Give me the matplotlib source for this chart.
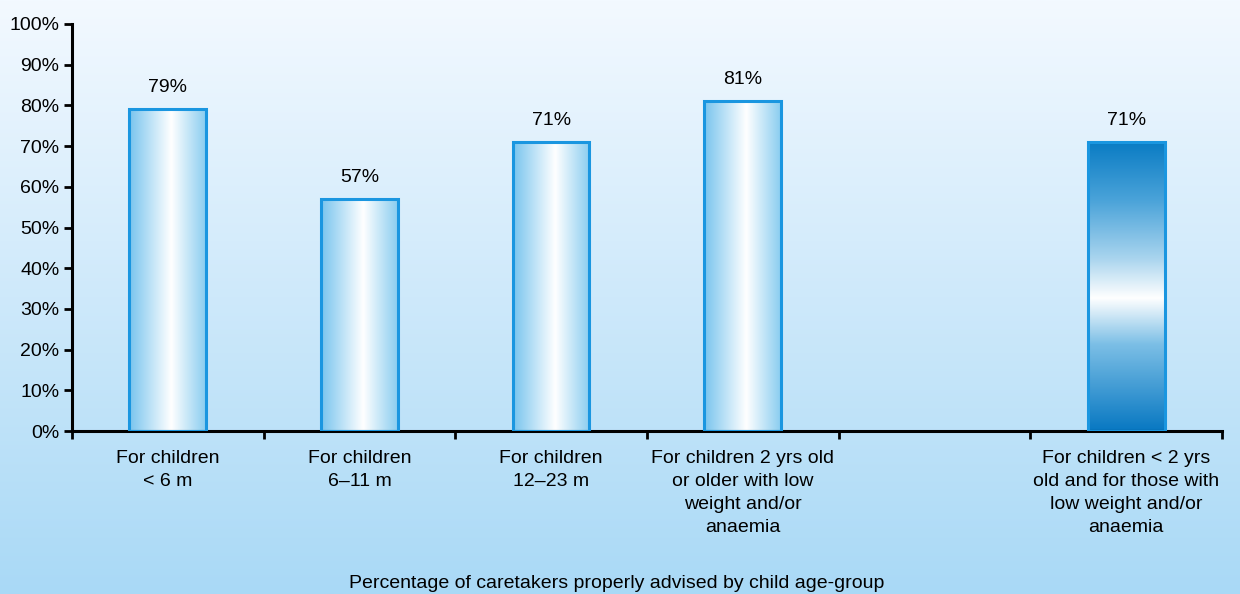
import numpy as np
import matplotlib
matplotlib.use("Agg")
import matplotlib.pyplot as plt
from matplotlib.colors import LinearSegmentedColormap
from matplotlib.patches import Rectangle

plt.rcParams['font.family'] = ['Liberation Sans', 'DejaVu Sans']

categories = [
    "For children\n< 6 m",
    "For children\n6\u201311 m",
    "For children\n12\u201323 m",
    "For children 2 yrs old\nor older with low\nweight and/or\nanaemia",
    "",
    "For children < 2 yrs\nold and for those with\nlow weight and/or\nanaemia",
]
values = [79, 57, 71, 81, None, 71]
value_labels = ["79%", "57%", "71%", "81%", "", "71%"]
yticks = list(range(0, 101, 10))
xlabel = "Percentage of caretakers properly advised by child age-group"

edge = "#1a96e0"
side_cmap = LinearSegmentedColormap.from_list(
    "side", [(0, "#78c4ee"), (0.55, "#ffffff"), (1, "#8acdf0")])
vert_cmap = LinearSegmentedColormap.from_list(
    "vert", [(0, "#0878c2"), (0.3, "#7cbfe6"), (0.46, "#ffffff"),
             (0.6, "#a8d4ee"), (0.8, "#4aa3d9"), (1, "#0a7cc4")])
bg_cmap = LinearSegmentedColormap.from_list(
    "bg", [(0, "#a9d9f6"), (1, "#f3f9ff")])

fs = 14

fig = plt.figure(figsize=(12.4, 5.94), dpi=100)

# background gradient
bg = fig.add_axes([0, 0, 1, 1], zorder=-10)
bg.imshow(np.linspace(0, 1, 256).reshape(-1, 1), cmap=bg_cmap, aspect="auto",
          origin="lower", extent=[0, 1, 0, 1])
bg.axis("off")

ax = fig.add_axes([0.058, 0.2744, 0.9275, 0.6852])
ax.patch.set_alpha(0)
ax.set_xlim(-0.5, 5.5)
ax.set_ylim(0, 100)

width = 0.4
grad_h = np.linspace(0, 1, 256).reshape(1, -1)
grad_v = np.linspace(0, 1, 256).reshape(-1, 1)
for i, v in enumerate(values):
    if v is None:
        continue
    x0 = i - width / 2
    if i == 5:
        img, cm = grad_v, vert_cmap
    else:
        img, cm = grad_h, side_cmap
    im = ax.imshow(img, cmap=cm, aspect="auto", origin="lower",
                   extent=[x0, x0 + width, 0, v], zorder=2)
    rect = Rectangle((x0, 0), width, v, facecolor="none", edgecolor=edge,
                     linewidth=2.2, zorder=3)
    ax.add_patch(rect)
    im.set_clip_path(rect)
    ax.text(i, v + 3.3, value_labels[i], ha="center", va="bottom", fontsize=fs)

ax.set_yticks(yticks)
ax.set_yticklabels([f"{t}%" for t in yticks], fontsize=fs)
ax.set_xticks(range(len(categories)))
ax.set_xticklabels(categories, fontsize=fs, linespacing=1.45)
ax.tick_params(axis="x", length=0, pad=14)
ax.set_xticks(np.arange(-0.5, 6, 1), minor=True)
ax.tick_params(axis="x", which="minor", length=6, width=2, direction="out")
ax.tick_params(axis="y", length=6, width=2, direction="out", pad=3)

for s in ["top", "right"]:
    ax.spines[s].set_visible(False)
for s in ["left", "bottom"]:
    ax.spines[s].set_linewidth(2.2)

fig.text(0.497, 0.004, xlabel, ha="center", va="bottom", fontsize=fs)

fig.savefig("out.png", dpi=100)
